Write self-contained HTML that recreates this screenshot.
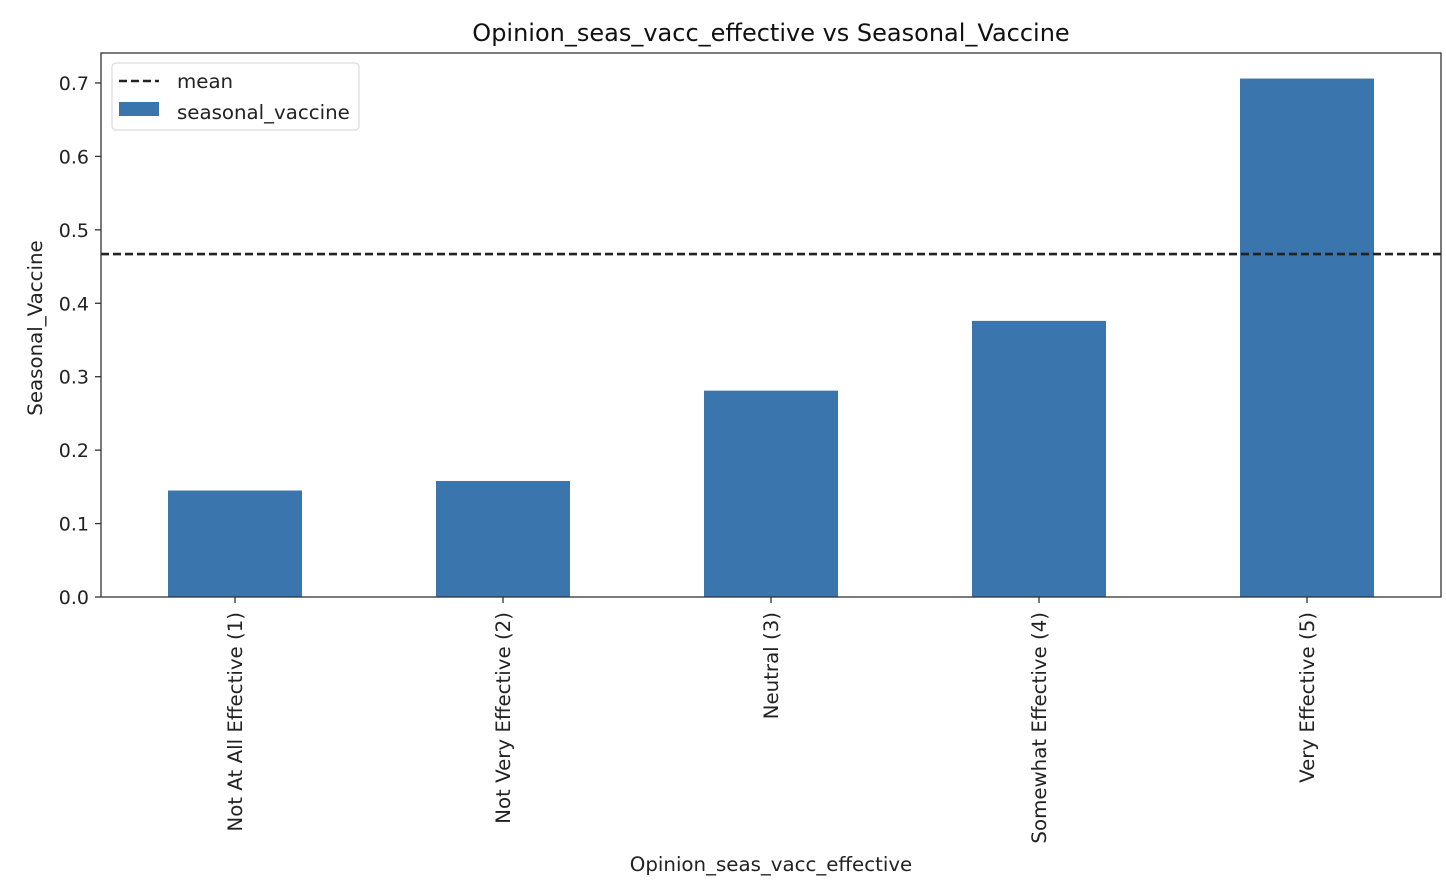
<!DOCTYPE html>
<html><head><meta charset="utf-8"><style>
html,body{margin:0;padding:0;background:#fff;}
svg{display:block;font-family:"DejaVu Sans","Liberation Sans",sans-serif;}
</style></head><body>
<svg id="chart" width="1446" height="886" xmlns="http://www.w3.org/2000/svg"></svg>
<script>
const categories = ["Not At All Effective (1)","Not Very Effective (2)","Neutral (3)","Somewhat Effective (4)","Very Effective (5)"];
const seasonalVaccine = [0.145, 0.158, 0.281, 0.376, 0.706];
const meanValue = [0.467];
const yTicks = [0.0, 0.1, 0.2, 0.3, 0.4, 0.5, 0.6, 0.7];

const svg = document.getElementById('chart');
const NS = 'http://www.w3.org/2000/svg';
const L = 101, R = 1441, T = 53, B = 597;
const yMax = 0.7408;
function y(v){ return B - v / yMax * (B - T); }
function xc(i){ return L + (R - L) / categories.length * (i + 0.5); }
const bw = (R - L) / categories.length * 0.5;
function mk(tag, attrs, parent){
  const e = document.createElementNS(NS, tag);
  for (const k in attrs) e.setAttribute(k, attrs[k]);
  (parent || svg).appendChild(e);
  return e;
}

seasonalVaccine.forEach((v, i) => {
  const r = mk('rect', {x: xc(i) - bw / 2, y: y(v), width: bw, height: B - y(v), fill: '#3a75ae'});
  
  
});
const ml = mk('line', {x1: L, x2: R, y1: y(meanValue[0]), y2: y(meanValue[0]), stroke: '#222', 'stroke-width': 2.6, 'stroke-dasharray': '8,4'});



const fr = mk('rect', {x: L, y: T, width: R - L, height: B - T, fill: 'none', stroke: '#333', 'stroke-width': 1.3});



yTicks.forEach(t => {
  const tl = mk('line', {x1: L - 6, x2: L, y1: y(t), y2: y(t), stroke: '#333', 'stroke-width': 1.3});
  
  
  const tx = mk('text', {x: L - 12, y: y(t) + 7, 'text-anchor': 'end', 'font-size': 19, fill: '#222'});
  tx.textContent = t.toFixed(1);
  
  
});
categories.forEach((c, i) => {
  const tl = mk('line', {x1: xc(i), x2: xc(i), y1: B, y2: B + 6, stroke: '#333', 'stroke-width': 1.3});
  
  
  const tx = mk('text', {x: 0, y: 0, 'text-anchor': 'end', 'font-size': 19.8, fill: '#222', transform: `translate(${xc(i) + 7},${B + 15}) rotate(-90)`});
  tx.textContent = c;
  
  
});

const title = mk('text', {x: (L + R) / 2, y: 41, 'text-anchor': 'middle', 'font-size': 24, fill: '#111'});
title.textContent = 'Opinion_seas_vacc_effective vs Seasonal_Vaccine';


const xt = mk('text', {x: (L + R) / 2, y: 871, 'text-anchor': 'middle', 'font-size': 19.8, fill: '#222'});
xt.textContent = 'Opinion_seas_vacc_effective';


const yt = mk('text', {x: 0, y: 0, 'text-anchor': 'middle', 'font-size': 19.8, fill: '#222', transform: `translate(42,${(T + B) / 2 + 3}) rotate(-90)`});
yt.textContent = 'Seasonal_Vaccine';



const lg = mk('g', {});


mk('rect', {x: 112, y: 63, width: 247, height: 67, rx: 4, fill: '#fff', 'fill-opacity': 0.85, stroke: '#ddd', 'stroke-width': 1.3}, lg);
const le1 = mk('line', {x1: 119, x2: 159, y1: 81, y2: 81, stroke: '#222', 'stroke-width': 2.6, 'stroke-dasharray': '8,4'}, lg);


const lt1 = mk('text', {x: 177, y: 88, 'font-size': 19.8, fill: '#222'}, lg);
lt1.textContent = 'mean';


const le2 = mk('rect', {x: 119, y: 102, width: 40, height: 14, fill: '#3a75ae'}, lg);


const lt2 = mk('text', {x: 177, y: 119, 'font-size': 19.8, fill: '#222'}, lg);
lt2.textContent = 'seasonal_vaccine';


</script>
</body></html>
